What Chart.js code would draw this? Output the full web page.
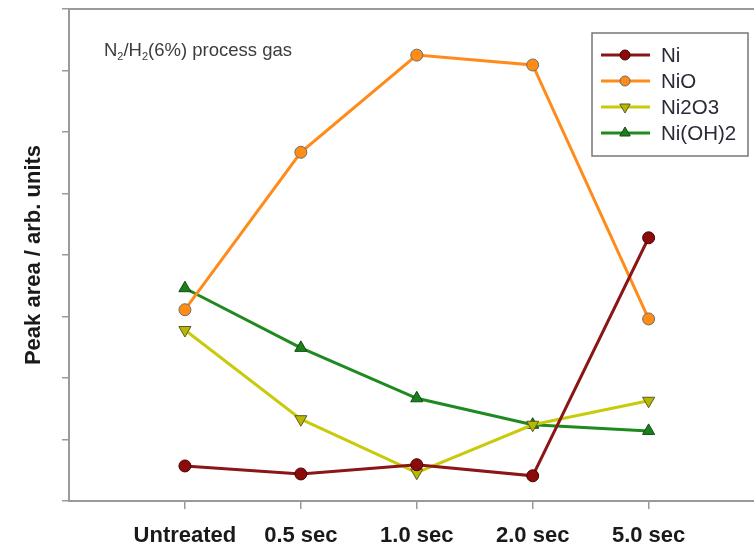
<!DOCTYPE html>
<html>
<head>
<meta charset="utf-8">
<script src="https://cdn.jsdelivr.net/npm/chart.js@4.4.0/dist/chart.umd.min.js"></script>
<style>
  html, body { margin: 0; padding: 0; background: #fff; }
  canvas { display: block; }
</style>
</head>
<body>
<canvas id="peak-chart" width="754" height="549"></canvas>
<script>
// Treatment steps along the x axis
const xLabels = ['Untreated', '0.5 sec', '1.0 sec', '2.0 sec', '5.0 sec'];

// Peak areas (arb. units)
const niValues = [0.57, 0.44, 0.59, 0.41, 4.28];
const nioValues = [3.11, 5.67, 7.25, 7.09, 2.96];
const ni2o3Values = [2.78, 1.33, 0.46, 1.24, 1.63];
const niohValues = [3.46, 2.49, 1.67, 1.24, 1.14];

const seriesNames = ['Ni', 'NiO', 'Ni2O3', 'Ni(OH)2'];

const FONT = '"Liberation Sans", Arial, sans-serif';
const AXIS_GREY = '#9a9a9a';

const toPoints = (vals) => vals.map((v, i) => ({ x: i, y: v }));

const makeSeries = (label, vals, line, fill, edge, style, rotation) => ({
  label,
  data: toPoints(vals),
  borderColor: line,
  backgroundColor: fill,
  borderWidth: 3,
  pointBackgroundColor: fill,
  pointBorderColor: edge,
  pointBorderWidth: 1,
  pointStyle: style,
  pointRotation: rotation || 0,
  pointRadius: style === 'circle' ? 6 : 7,
  tension: 0
});

const datasets = [
  makeSeries(seriesNames[0], niValues, '#8a1616', '#8b0a0a', '#4a0000', 'circle'),
  makeSeries(seriesNames[1], nioValues, '#ff8c1a', '#ff8c14', '#6e6e6e', 'circle'),
  makeSeries(seriesNames[2], ni2o3Values, '#c8cb0c', '#b9b800', '#5a5a2a', 'triangle', 180),
  makeSeries(seriesNames[3], niohValues, '#1f8a1f', '#1c7f1c', '#0f4d0f', 'triangle')
];

// Frame lines, process gas note and the boxed legend
const decorPlugin = {
  id: 'decor',
  afterDraw: (chart) => {
    const { ctx, chartArea } = chart;
    ctx.save();

    // top and bottom frame run off the right edge like the original
    ctx.strokeStyle = AXIS_GREY;
    ctx.lineWidth = 2;
    ctx.beginPath();
    ctx.moveTo(chartArea.left, chartArea.top);
    ctx.lineTo(chart.width, chartArea.top);
    ctx.moveTo(chartArea.right - 1, chartArea.bottom);
    ctx.lineTo(chart.width, chartArea.bottom);
    ctx.stroke();

    // N2/H2(6%) process gas
    ctx.fillStyle = '#3c3c3c';
    ctx.textBaseline = 'alphabetic';
    let x = chartArea.left + 35;
    const base = chartArea.top + 47;
    const parts = [['N', 0], ['2', 1], ['/H', 0], ['2', 1], ['(6%) process gas', 0]];
    parts.forEach(([txt, sub]) => {
      ctx.font = sub ? `11px ${FONT}` : `18.5px ${FONT}`;
      ctx.fillText(txt, x, sub ? base + 4 : base);
      x += ctx.measureText(txt).width;
    });

    // legend box
    const boxL = 592;
    const boxT = chartArea.top + 24;
    const boxW = 156;
    const boxH = 123;
    ctx.fillStyle = '#fff';
    ctx.fillRect(boxL, boxT, boxW, boxH);
    ctx.strokeStyle = '#777';
    ctx.lineWidth = 1.5;
    ctx.strokeRect(boxL, boxT, boxW, boxH);

    ctx.font = `20.5px ${FONT}`;
    ctx.textBaseline = 'middle';
    chart.data.datasets.forEach((ds, i) => {
      const rowY = boxT + 22 + i * 26;
      ctx.strokeStyle = ds.borderColor;
      ctx.lineWidth = 3;
      ctx.beginPath();
      ctx.moveTo(boxL + 9, rowY);
      ctx.lineTo(boxL + 58, rowY);
      ctx.stroke();

      ctx.fillStyle = ds.pointBackgroundColor;
      ctx.strokeStyle = ds.pointBorderColor;
      ctx.lineWidth = 1;
      Chart.helpers.drawPoint(ctx, {
        pointStyle: ds.pointStyle,
        rotation: ds.pointRotation,
        radius: ds.pointStyle === 'circle' ? 5 : 6,
        borderWidth: 1
      }, boxL + 33, rowY);

      ctx.fillStyle = '#2a2a38';
      ctx.fillText(ds.label, boxL + 69, rowY + 1);
    });

    ctx.restore();
  }
};

const canvas = document.getElementById('peak-chart');

new Chart(canvas, {
  type: 'line',
  data: { datasets },
  options: {
    responsive: false,
    animation: false,
    devicePixelRatio: 1,
    layout: { padding: { top: 9, right: 0, left: 0, bottom: 0 } },
    plugins: {
      legend: { display: false },
      tooltip: { enabled: false }
    },
    scales: {
      x: {
        type: 'linear',
        min: -1,
        max: 4.84,
        afterBuildTicks: (scale) => {
          scale.ticks = xLabels.map((_, i) => ({ value: i }));
        },
        afterFit: (scale) => { scale.height = 48; },
        grid: {
          drawOnChartArea: false,
          drawTicks: true,
          tickLength: 8,
          color: AXIS_GREY,
          lineWidth: 1.5
        },
        border: { display: true, color: AXIS_GREY, width: 2 },
        ticks: {
          color: '#1a1a1a',
          padding: 14,
          maxRotation: 0,
          autoSkip: false,
          font: { family: FONT, size: 22, weight: 'bold' },
          callback: (v) => xLabels[v]
        }
      },
      y: {
        min: 0,
        max: 8,
        afterFit: (scale) => { scale.width = 69; },
        grid: {
          drawOnChartArea: false,
          drawTicks: true,
          tickLength: 7,
          color: AXIS_GREY,
          lineWidth: 1.5
        },
        border: { display: true, color: AXIS_GREY, width: 2 },
        ticks: { stepSize: 1, display: false },
        title: {
          display: true,
          text: 'Peak area / arb. units',
          color: '#1a1a1a',
          padding: { top: 21, bottom: 0 },
          font: { family: FONT, size: 22, weight: 'bold' }
        }
      }
    }
  },
  plugins: [decorPlugin]
});
</script>
</body>
</html>
